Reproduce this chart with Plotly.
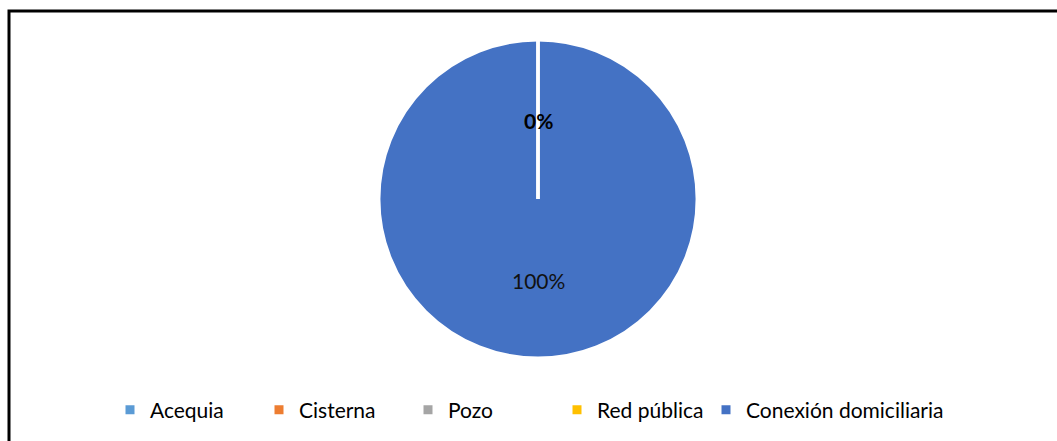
import math
import plotly.graph_objects as go

categories = ["Acequia", "Cisterna", "Pozo", "Red pública", "Conexión domiciliaria"]
values = [0, 0, 0, 0, 100]
colors = ["#5B9BD5", "#ED7D31", "#A5A5A5", "#FFC000", "#4472C4"]

W, H = 1057, 441
cx, cy, R = 538, 199, 157
Rd = R + 2  # domain half-size (plotly trims a little for the outline)

fig = go.Figure()
fig.add_trace(go.Pie(
    labels=categories, values=values, sort=False, direction="clockwise", rotation=0,
    marker=dict(colors=colors, line=dict(color="white", width=3)),
    textinfo="none", hoverinfo="label+percent",
    domain=dict(x=[(cx - Rd) / W, (cx + Rd) / W], y=[1 - (cy + Rd) / H, 1 - (cy - Rd) / H]),
))

# data labels at the slice mid-angles (Excel style) and slice separators
total = sum(values)
cum = 0
seen = set()
annotations = []
shapes = []
for v in values:
    frac = v / total
    start = cum
    mid = cum + frac / 2
    cum += frac
    ang = 2 * math.pi * mid
    rr = 0.5 * R if v == 0 else 0.52 * R
    px = cx + rr * math.sin(ang)
    py = cy - rr * math.cos(ang)
    txt = f"{round(frac * 100)}%"
    if v == 0:
        # zero-width slice: its border is drawn as a white radial line
        a0 = 2 * math.pi * start
        shapes.append(dict(type="line", xref="paper", yref="paper",
                           x0=cx / W, y0=1 - cy / H,
                           x1=(cx + (R + 2) * math.sin(a0)) / W, y1=1 - (cy - (R + 2) * math.cos(a0)) / H,
                           line=dict(color="white", width=3), layer="above"))
    key = (round(px), round(py), txt)
    if key in seen:
        continue
    seen.add(key)
    annotations.append(dict(
        x=px / W, y=1 - py / H, xref="paper", yref="paper", showarrow=False,
        text=f"<b>{txt}</b>" if v == 0 else txt,
        font=dict(family="Lato, Open Sans, sans-serif", size=21,
                  color="#000000" if v == 0 else "#111111"),
        xanchor="center", yanchor="middle",
    ))

shapes.append(dict(type="rect", xref="paper", yref="paper",
                   x0=9 / W, x1=1.02, y0=-0.05, y1=1 - 11 / H,
                   line=dict(color="black", width=3), fillcolor="rgba(0,0,0,0)", layer="above"))

fig.update_layout(
    width=W, height=H, margin=dict(l=0, r=0, t=0, b=0),
    paper_bgcolor="white", plot_bgcolor="white",
    annotations=annotations,
    showlegend=True,
    legend=dict(orientation="h", x=110 / W, y=1 - 410 / H, xanchor="left", yanchor="middle",
                font=dict(family="Lato, Open Sans, sans-serif", size=21, color="#000000"),
                entrywidth=104, entrywidthmode="pixels", itemclick=False),
    shapes=shapes,
)

# let the last legend entry overflow its fixed-width slot instead of being clipped
post = """
var gd = document.getElementById('{plot_id}');
gd.querySelectorAll('.legend .scrollbox, .legend').forEach(function(el){
  el.removeAttribute('clip-path'); el.style.clipPath = 'none';
});
"""
fig.write_html("out.html", post_script=post)
